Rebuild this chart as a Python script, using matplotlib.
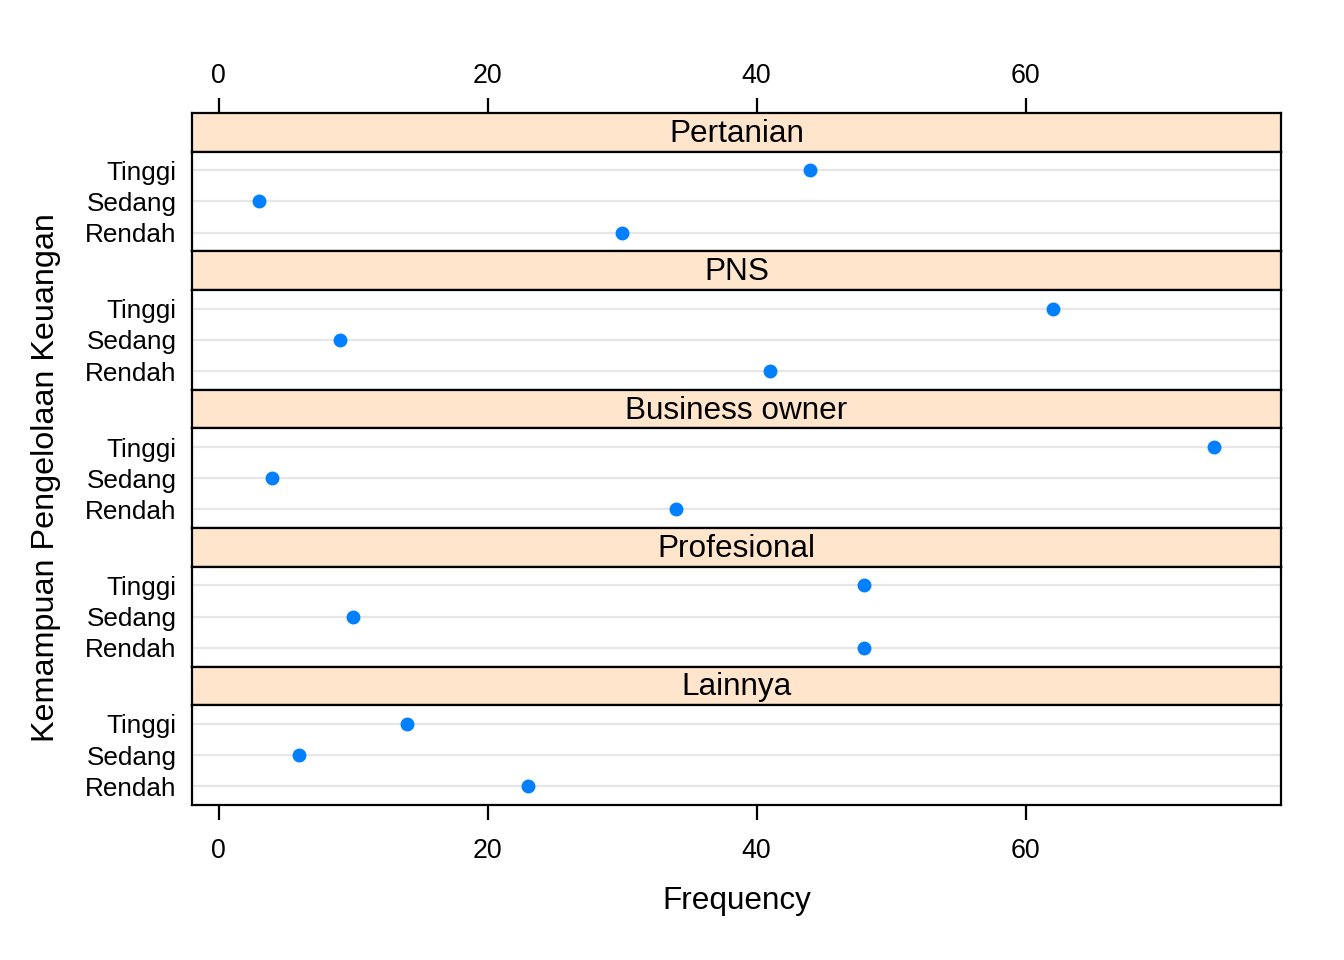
import matplotlib.pyplot as plt

plt.rcParams['font.family'] = ['Liberation Sans', 'DejaVu Sans']

# data read from the lattice dotplot
panels = ['Pertanian', 'PNS', 'Business owner', 'Profesional', 'Lainnya']
levels = ['Rendah', 'Sedang', 'Tinggi']
rendah = [30, 41, 34, 48, 23]
sedang = [3, 9, 4, 10, 6]
tinggi = [44, 62, 74, 48, 14]
xticks = [0, 20, 40, 60]

W, H = 1344, 960
fig = plt.figure(figsize=(W / 100, H / 100), dpi=100)

left, right = 192, 1281
top = 113
block = 138.4
strip_h = 38.5

# lattice pads the numeric range by 7% on each side
allv = rendah + sedang + tinggi
lo, hi = min(allv), max(allv)
pad = (hi - lo) * 0.07
xlim = (lo - pad, hi + pad)

fs_tick = 19.3
fs_ytick = 18.8
fs_lab = 22.7
lw = 1.6

for i, name in enumerate(panels):
    s_top = top + block * i
    s_bot = s_top + strip_h
    p_bot = s_top + block

    # strip
    sax = fig.add_axes([left / W, 1 - s_bot / H, (right - left) / W, strip_h / H])
    sax.set_facecolor('#ffe5cc')
    sax.set_xlim(*xlim)
    sax.set_ylim(0, 1)
    sax.text(0.5, 0.46, name, transform=sax.transAxes, ha='center', va='center', fontsize=fs_lab)
    sax.set_yticks([])
    for sp in sax.spines.values():
        sp.set_linewidth(lw)
    if i == 0:
        sax.xaxis.set_ticks_position('top')
        sax.set_xticks(xticks)
        sax.tick_params(axis='x', labelsize=fs_tick, length=11, width=lw, pad=6, direction='out')
    else:
        sax.set_xticks([])

    # panel
    ax = fig.add_axes([left / W, 1 - p_bot / H, (right - left) / W, (p_bot - s_bot) / H])
    vals = [rendah[i], sedang[i], tinggi[i]]
    ypos = list(range(1, len(levels) + 1))
    for y in ypos:
        ax.axhline(y, color='#e6e6e6', lw=1.6, zorder=0)
    ax.plot(vals, ypos, 'o', color='#0080ff', markersize=9, zorder=3)
    ax.set_xlim(*xlim)
    ax.set_ylim(0.4, 3.6)
    ax.set_yticks(ypos)
    ax.set_yticklabels(levels)
    ax.tick_params(axis='y', length=0, labelsize=fs_ytick, pad=11)
    for sp in ax.spines.values():
        sp.set_linewidth(lw)
    if i == len(panels) - 1:
        ax.set_xticks(xticks)
        ax.tick_params(axis='x', labelsize=fs_tick, length=11, width=lw, pad=13, direction='out')
    else:
        ax.set_xticks([])

fig.text((left + right) / 2 / W, 1 - 901 / H, 'Frequency', ha='center', va='center', fontsize=fs_lab)
fig.text(46 / W, 1 - 478 / H, 'Kemampuan Pengelolaan Keuangan', ha='center', va='center',
         rotation=90, fontsize=23.3)

plt.savefig('out.png', dpi=100)
